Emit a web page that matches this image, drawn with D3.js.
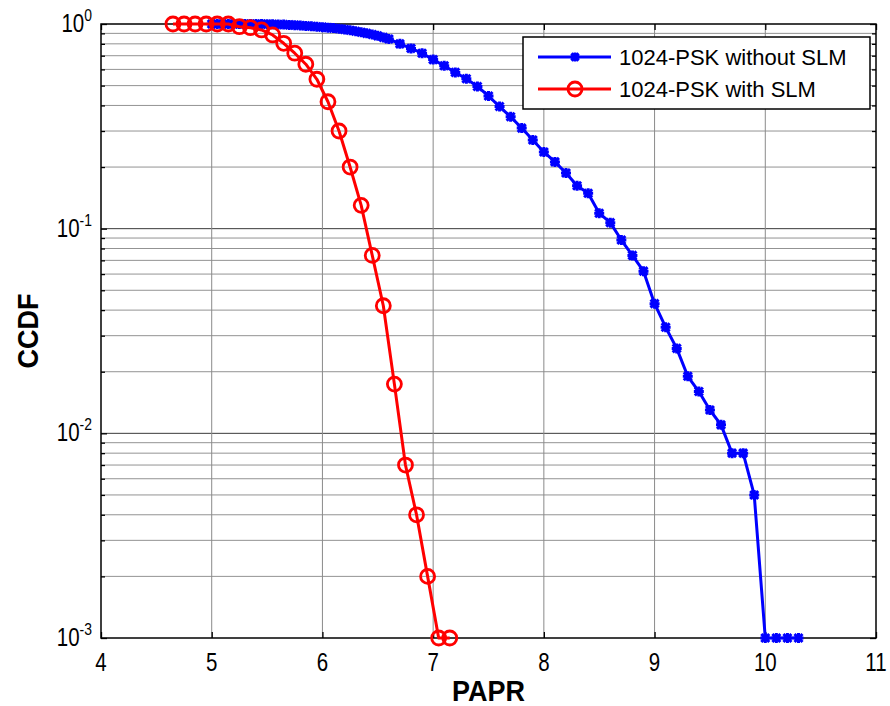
<!DOCTYPE html>
<html><head><meta charset="utf-8">
<script src="https://cdn.jsdelivr.net/npm/d3@7"></script>
<style>body{margin:0;background:#fff;} svg{display:block;} text{font-family:"Liberation Sans",Arial,sans-serif;fill:#000;}</style>
</head><body><svg id="c" width="890" height="706"></svg>
<script>
const xTicks = [4, 5, 6, 7, 8, 9, 10, 11];
const yDecades = [-3, -2, -1, 0];
const seriesNames = ["1024-PSK without SLM", "1024-PSK with SLM"];
const xLabel = "PAPR";
const yLabel = "CCDF";

const paprWithout = [5.0, 5.05, 5.1, 5.15, 5.2, 5.25, 5.3, 5.35, 5.4, 5.45, 5.5, 5.55, 5.6, 5.65, 5.7, 5.75,
  5.8, 5.85, 5.9, 5.95, 6.0, 6.05, 6.1, 6.15, 6.2, 6.25, 6.3, 6.35, 6.4, 6.45, 6.5, 6.55, 6.6,
  6.7, 6.8, 6.9, 7.0, 7.1, 7.2, 7.3, 7.4, 7.5, 7.6, 7.7, 7.8, 7.9, 8.0, 8.1, 8.2, 8.3, 8.4, 8.5,
  8.6, 8.7, 8.8, 8.9, 9.0, 9.1, 9.2, 9.3, 9.4, 9.5, 9.6, 9.7, 9.8, 9.9, 10.0, 10.1, 10.2, 10.3];
const ccdfWithout = [1, 1, 1, 1, 1, 1, 1, 1, 0.999, 0.999, 0.998, 0.997, 0.995, 0.993, 0.99, 0.987,
  0.983, 0.979, 0.975, 0.97, 0.965, 0.96, 0.955, 0.948, 0.94, 0.932, 0.922, 0.912, 0.9, 0.888, 0.875, 0.86, 0.845,
  0.80, 0.76, 0.72, 0.67, 0.625, 0.58, 0.54, 0.495, 0.445, 0.395, 0.352, 0.31, 0.271, 0.237, 0.212, 0.187, 0.162, 0.149, 0.119,
  0.107, 0.088, 0.074, 0.062, 0.043, 0.033, 0.026, 0.019, 0.016, 0.013, 0.011, 0.008, 0.008, 0.005, 0.001, 0.001, 0.001, 0.001];

const paprWith = [4.65, 4.75, 4.85, 4.95, 5.05, 5.15, 5.25, 5.35, 5.45, 5.55, 5.65, 5.75, 5.85,
  5.95, 6.05, 6.15, 6.25, 6.35, 6.45, 6.55, 6.65, 6.75, 6.85, 6.95, 7.05, 7.15];
const ccdfWith = [1, 1, 1, 1, 1, 1, 0.97, 0.959, 0.935, 0.884, 0.805, 0.72, 0.636,
  0.537, 0.417, 0.3, 0.2, 0.13, 0.074, 0.042, 0.0174, 0.007, 0.004, 0.002, 0.001, 0.001];

const L = 101, R = 876, T = 24, B = 638;
const svg = d3.select("#c");
const x = d3.scaleLinear().domain([4, 11]).range([L, R]);
const y = d3.scaleLog().domain([1e-3, 1]).range([B, T]);

// grid
const minorY = [];
yDecades.slice(0, 3).forEach(d => { for (let k = 2; k <= 9; k++) minorY.push(k * Math.pow(10, d)); });
const majorY = yDecades.map(d => Math.pow(10, d));
const grid = svg.append("g");
grid.selectAll("line.mx").data(minorY).join("line")
  .attr("x1", L).attr("x2", R).attr("y1", d => y(d)).attr("y2", d => y(d))
  .attr("stroke", "#939393").attr("stroke-width", 1);
grid.selectAll("line.Mx").data(majorY.slice(1, 3)).join("line")
  .attr("x1", L).attr("x2", R).attr("y1", d => y(d)).attr("y2", d => y(d))
  .attr("stroke", "#3a3a3a").attr("stroke-width", 1);
grid.selectAll("line.vx").data(xTicks.slice(1, -1)).join("line")
  .attr("x1", d => x(d)).attr("x2", d => x(d)).attr("y1", T).attr("y2", B)
  .attr("stroke", "#8a8a8a").attr("stroke-width", 1);

// axes box + ticks (inward, all sides)
const ax = svg.append("g");
const xAxisB = d3.axisBottom(x).tickValues(xTicks).tickSize(-6).tickFormat("");
const xAxisT = d3.axisTop(x).tickValues(xTicks).tickSize(-6).tickFormat("");
ax.append("g").attr("transform", `translate(0,${B})`).call(xAxisB);
ax.append("g").attr("transform", `translate(0,${T})`).call(xAxisT);
const yAxisL = d3.axisLeft(y).tickValues(majorY).tickSize(-6).tickFormat("");
const yAxisR = d3.axisRight(y).tickValues(majorY).tickSize(-6).tickFormat("");
const yAxisLm = d3.axisLeft(y).tickValues(minorY).tickSize(-4).tickFormat("");
const yAxisRm = d3.axisRight(y).tickValues(minorY).tickSize(-4).tickFormat("");
ax.append("g").attr("transform", `translate(${L},0)`).call(yAxisL);
ax.append("g").attr("transform", `translate(${R},0)`).call(yAxisR);
ax.append("g").attr("transform", `translate(${L},0)`).call(yAxisLm);
ax.append("g").attr("transform", `translate(${R},0)`).call(yAxisRm);
ax.selectAll(".domain").remove();
ax.selectAll(".tick line").attr("stroke", "#000").attr("stroke-width", 1.3);
ax.append("rect").attr("x", L).attr("y", T).attr("width", R - L).attr("height", B - T)
  .attr("fill", "none").attr("stroke", "#000").attr("stroke-width", 1.5);

// tick labels (narrow, tall like the reference)
svg.append("g").selectAll("text").data(xTicks).join("text")
  .attr("transform", d => `translate(${x(d)},${B + 33}) scale(0.82,1)`).attr("text-anchor", "middle")
  .attr("font-size", 25).text(d => d);
const yl = svg.append("g").selectAll("text").data(yDecades).join("text")
  .attr("transform", d => `translate(92,${y(Math.pow(10, d)) + 8}) scale(0.82,1)`).attr("text-anchor", "end")
  .attr("font-size", 25);
yl.append("tspan").text("10");
yl.append("tspan").attr("dy", -11).attr("font-size", 17).text(d => d === 0 ? "0" : "-" + Math.abs(d));

svg.append("text").attr("transform", `translate(${(L + R) / 2},701) scale(0.9,1)`).attr("text-anchor", "middle")
  .attr("font-size", 30).attr("font-weight", "bold").text(xLabel);
svg.append("text").attr("transform", `translate(38,${(T + B) / 2}) rotate(-90) scale(0.9,1)`).attr("text-anchor", "middle")
  .attr("font-size", 30).attr("font-weight", "bold").text(yLabel);

// series
const line = d3.line().x(d => x(d[0])).y(d => y(d[1]));
const blueData = paprWithout.map((p, i) => [p, ccdfWithout[i]]);
const redData = paprWith.map((p, i) => [p, ccdfWith[i]]);

function star(g, cx, cy, s) {
  const p = `M${cx - s},${cy}L${cx + s},${cy}M${cx},${cy - s}L${cx},${cy + s}` +
    `M${cx - s * 0.8},${cy - s * 0.8}L${cx + s * 0.8},${cy + s * 0.8}M${cx - s * 0.8},${cy + s * 0.8}L${cx + s * 0.8},${cy - s * 0.8}`;
  g.append("path").attr("d", p).attr("stroke", "#0000ff").attr("stroke-width", 3).attr("fill", "none");
}

const sb = svg.append("g");
sb.append("path").datum(blueData).attr("d", line).attr("fill", "none")
  .attr("stroke", "#0000ff").attr("stroke-width", 3).attr("stroke-linejoin", "round");
blueData.forEach(d => star(sb, x(d[0]), y(d[1]), 5));

const sr = svg.append("g");
sr.append("path").datum(redData).attr("d", line).attr("fill", "none")
  .attr("stroke", "#ff0000").attr("stroke-width", 3).attr("stroke-linejoin", "round");
sr.selectAll("circle").data(redData).join("circle")
  .attr("cx", d => x(d[0])).attr("cy", d => y(d[1])).attr("r", 7)
  .attr("fill", "none").attr("stroke", "#ff0000").attr("stroke-width", 2.8);

// legend
const lg = svg.append("g");
lg.append("rect").attr("x", 523).attr("y", 37).attr("width", 347).attr("height", 72)
  .attr("fill", "#fff").attr("stroke", "#000").attr("stroke-width", 1.5);
const ly = [57, 89];
lg.append("line").attr("x1", 538).attr("x2", 611).attr("y1", ly[0]).attr("y2", ly[0])
  .attr("stroke", "#0000ff").attr("stroke-width", 3);
star(lg, 575, ly[0], 4.5);
lg.append("line").attr("x1", 538).attr("x2", 611).attr("y1", ly[1]).attr("y2", ly[1])
  .attr("stroke", "#ff0000").attr("stroke-width", 3);
lg.append("circle").attr("cx", 575).attr("cy", ly[1]).attr("r", 7).attr("fill", "none")
  .attr("stroke", "#ff0000").attr("stroke-width", 2.8);
lg.selectAll("text").data(seriesNames).join("text")
  .attr("x", 619).attr("y", (d, i) => ly[i] + 8).attr("font-size", 22).text(d => d);
</script></body></html>
